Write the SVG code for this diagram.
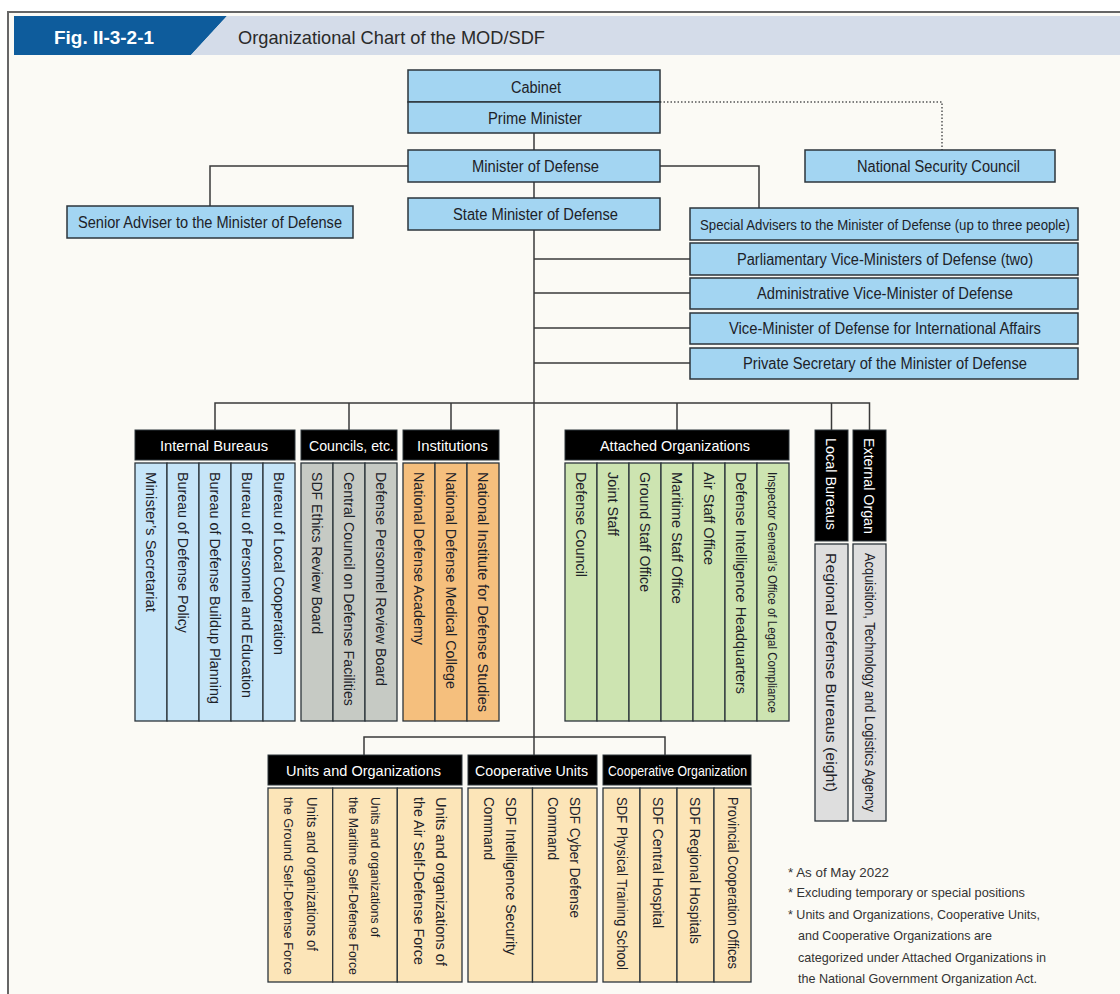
<svg xmlns="http://www.w3.org/2000/svg" width="1120" height="994" viewBox="0 0 1120 994">
<style>
text{font-family:"Liberation Sans Narrow","Liberation Sans",Arial,sans-serif;fill:#1d2228}
.t{font-size:16px}
.box{fill:#a3d5f2;stroke:#2c353b;stroke-width:1.5}
.hd{fill:#000;stroke:#2c353b;stroke-width:1}
.ht{font-size:15px;fill:#fff}
.v{font-size:15px}
.cb{fill:#c6e5f8;stroke:#2c353b;stroke-width:1.3}
.cg{fill:#c6cac4;stroke:#2c353b;stroke-width:1.3}
.co{fill:#f5bf7d;stroke:#2c353b;stroke-width:1.3}
.cgr{fill:#cde4b1;stroke:#2c353b;stroke-width:1.3}
.cl{fill:#dedede;stroke:#2c353b;stroke-width:1.3}
.cy{fill:#fce5b8;stroke:#2c353b;stroke-width:1.3}
.conn{stroke:#3a3a3a;stroke-width:1.5;fill:none}
.dot{stroke:#555;stroke-width:1.5;fill:none;stroke-dasharray:1.5 2}
.note{font-size:13.5px;fill:#333}
</style>
<rect x="0" y="0" width="1120" height="994" fill="#ffffff"/>
<rect x="8" y="12" width="1112" height="982" fill="#fbfaf5"/>
<path d="M8,994 V12 H1120" stroke="#666" stroke-width="2" fill="none"/>
<g id="header">
<polygon points="14,16 227,16 191,55 14,55" fill="#0e5c9c"/>
<polygon points="227,16 1120,16 1120,55 191,55" fill="#d4dce9"/>
<text x="54" y="44" style="font-size:19px;font-weight:bold;fill:#fff" textLength="100" lengthAdjust="spacingAndGlyphs">Fig. II-3-2-1</text>
<text x="238" y="44" style="font-size:19px;fill:#2a2a2a" textLength="307" lengthAdjust="spacingAndGlyphs">Organizational Chart of the MOD/SDF</text>
</g>
<g id="connectors">
<line class="conn" x1="534" y1="133" x2="534" y2="150"/>
<line class="conn" x1="534" y1="182" x2="534" y2="198"/>
<line class="conn" x1="534" y1="230" x2="534" y2="755"/>
<polyline class="conn" points="408,166 210,166 210,206"/>
<polyline class="conn" points="660,166 759,166 759,208"/>
<line class="conn" x1="534" y1="259" x2="690" y2="259"/>
<line class="conn" x1="534" y1="293" x2="690" y2="293"/>
<line class="conn" x1="534" y1="328" x2="690" y2="328"/>
<line class="conn" x1="534" y1="363" x2="690" y2="363"/>
<polyline class="conn" points="215,430 215,403 869.5,403 869.5,430"/>
<line class="conn" x1="349" y1="403" x2="349" y2="430"/>
<line class="conn" x1="451" y1="403" x2="451" y2="430"/>
<line class="conn" x1="677" y1="403" x2="677" y2="430"/>
<line class="conn" x1="831.5" y1="403" x2="831.5" y2="430"/>
<polyline class="conn" points="364,755 364,737 665,737 665,755"/>
<polyline class="dot" points="660,102 942,102 942,150"/>
</g>
<g id="cabinet"><rect class="box" x="408" y="70" width="252" height="32"/><text class="t" x="511" y="92.5" textLength="50" lengthAdjust="spacingAndGlyphs">Cabinet</text></g>
<g id="prime-minister"><rect class="box" x="408" y="102" width="252" height="31"/><text class="t" x="488" y="123.5" textLength="94" lengthAdjust="spacingAndGlyphs">Prime Minister</text></g>
<g id="minister"><rect class="box" x="408" y="150" width="252" height="32"/><text class="t" x="472" y="172" textLength="127" lengthAdjust="spacingAndGlyphs">Minister of Defense</text></g>
<g id="state-minister"><rect class="box" x="408" y="198" width="252" height="32"/><text class="t" x="453" y="220" textLength="165" lengthAdjust="spacingAndGlyphs">State Minister of Defense</text></g>
<g id="nsc"><rect class="box" x="805" y="150" width="250" height="32"/><text class="t" x="857" y="172" textLength="163" lengthAdjust="spacingAndGlyphs">National Security Council</text></g>
<g id="senior-adviser"><rect class="box" x="67" y="206" width="286" height="32"/><text class="t" x="78" y="227.5" textLength="264" lengthAdjust="spacingAndGlyphs">Senior Adviser to the Minister of Defense</text></g>
<g id="special-advisers"><rect class="box" x="690" y="208" width="388" height="32"/><text class="t" x="700" y="229.5" style="font-size:15px" textLength="370" lengthAdjust="spacingAndGlyphs">Special Advisers to the Minister of Defense (up to three people)</text></g>
<g id="parliamentary"><rect class="box" x="690" y="243" width="388" height="32"/><text class="t" x="737" y="264.5" textLength="296" lengthAdjust="spacingAndGlyphs">Parliamentary Vice-Ministers of Defense (two)</text></g>
<g id="administrative"><rect class="box" x="690" y="278" width="388" height="31"/><text class="t" x="757" y="299" textLength="256" lengthAdjust="spacingAndGlyphs">Administrative Vice-Minister of Defense</text></g>
<g id="international"><rect class="box" x="690" y="313" width="388" height="31"/><text class="t" x="729" y="334" textLength="312" lengthAdjust="spacingAndGlyphs">Vice-Minister of Defense for International Affairs</text></g>
<g id="private-secretary"><rect class="box" x="690" y="348" width="388" height="31"/><text class="t" x="743" y="369" textLength="284" lengthAdjust="spacingAndGlyphs">Private Secretary of the Minister of Defense</text></g>

<g id="internal-bureaus">
<rect class="hd" x="135" y="430" width="160" height="30"/><text class="ht" x="160" y="450.5" textLength="108" lengthAdjust="spacingAndGlyphs">Internal Bureaus</text>
<rect class="cb" x="135" y="463" width="32" height="258"/><rect class="cb" x="167" y="463" width="32" height="258"/><rect class="cb" x="199" y="463" width="32" height="258"/><rect class="cb" x="231" y="463" width="32" height="258"/><rect class="cb" x="263" y="463" width="32" height="258"/>
<text class="v" transform="translate(145.6,472) rotate(90)" textLength="140" lengthAdjust="spacingAndGlyphs">Minister’s Secretariat</text>
<text class="v" transform="translate(177.6,472) rotate(90)" textLength="161" lengthAdjust="spacingAndGlyphs">Bureau of Defense Policy</text>
<text class="v" transform="translate(209.6,472) rotate(90)" textLength="232" lengthAdjust="spacingAndGlyphs">Bureau of Defense Buildup Planning</text>
<text class="v" transform="translate(241.6,472) rotate(90)" textLength="226" lengthAdjust="spacingAndGlyphs">Bureau of Personnel and Education</text>
<text class="v" transform="translate(273.6,472) rotate(90)" textLength="183" lengthAdjust="spacingAndGlyphs">Bureau of Local Cooperation</text>
</g>
<g id="councils">
<rect class="hd" x="301" y="430" width="96" height="30"/><text class="ht" x="309" y="450.5" textLength="85" lengthAdjust="spacingAndGlyphs">Councils, etc.</text>
<rect class="cg" x="301" y="463" width="32" height="258"/><rect class="cg" x="333" y="463" width="32" height="258"/><rect class="cg" x="365" y="463" width="32" height="258"/>
<text class="v" transform="translate(311.6,472) rotate(90)" textLength="162" lengthAdjust="spacingAndGlyphs">SDF Ethics Review Board</text>
<text class="v" transform="translate(343.6,472) rotate(90)" textLength="234" lengthAdjust="spacingAndGlyphs">Central Council on Defense Facilities</text>
<text class="v" transform="translate(375.6,472) rotate(90)" textLength="214" lengthAdjust="spacingAndGlyphs">Defense Personnel Review Board</text>
</g>
<g id="institutions">
<rect class="hd" x="403" y="430" width="96" height="30"/><text class="ht" x="417" y="450.5" textLength="71" lengthAdjust="spacingAndGlyphs">Institutions</text>
<rect class="co" x="403" y="463" width="32" height="258"/><rect class="co" x="435" y="463" width="32" height="258"/><rect class="co" x="467" y="463" width="32" height="258"/>
<text class="v" transform="translate(413.6,472) rotate(90)" textLength="173" lengthAdjust="spacingAndGlyphs">National Defense Academy</text>
<text class="v" transform="translate(445.6,472) rotate(90)" textLength="217" lengthAdjust="spacingAndGlyphs">National Defense Medical College</text>
<text class="v" transform="translate(477.6,472) rotate(90)" textLength="240" lengthAdjust="spacingAndGlyphs">National Institute for Defense Studies</text>
</g>
<g id="attached-organizations">
<rect class="hd" x="565" y="430" width="224" height="30"/><text class="ht" x="600" y="450.5" textLength="150" lengthAdjust="spacingAndGlyphs">Attached Organizations</text>
<rect class="cgr" x="565" y="463" width="32" height="258"/><rect class="cgr" x="597" y="463" width="32" height="258"/><rect class="cgr" x="629" y="463" width="32" height="258"/><rect class="cgr" x="661" y="463" width="32" height="258"/><rect class="cgr" x="693" y="463" width="32" height="258"/><rect class="cgr" x="725" y="463" width="32" height="258"/><rect class="cgr" x="757" y="463" width="32" height="258"/>
<text class="v" transform="translate(575.6,472) rotate(90)" textLength="105" lengthAdjust="spacingAndGlyphs">Defense Council</text>
<text class="v" transform="translate(607.6,472) rotate(90)" textLength="64" lengthAdjust="spacingAndGlyphs">Joint Staff</text>
<text class="v" transform="translate(639.6,472) rotate(90)" textLength="120" lengthAdjust="spacingAndGlyphs">Ground Staff Office</text>
<text class="v" transform="translate(671.6,472) rotate(90)" textLength="132" lengthAdjust="spacingAndGlyphs">Maritime Staff Office</text>
<text class="v" transform="translate(703.6,472) rotate(90)" textLength="93" lengthAdjust="spacingAndGlyphs">Air Staff Office</text>
<text class="v" transform="translate(735.6,472) rotate(90)" textLength="222" lengthAdjust="spacingAndGlyphs">Defense Intelligence Headquarters</text>
<text class="v" transform="translate(768.3,472) rotate(90)" style="font-size:13px" textLength="241" lengthAdjust="spacingAndGlyphs">Inspector General’s Office of Legal Compliance</text>
</g>
<g id="local-bureaus">
<rect class="hd" x="815" y="430" width="33" height="111"/>
<text class="ht" transform="translate(826.1,438) rotate(90)" textLength="92" lengthAdjust="spacingAndGlyphs">Local Bureaus</text>
<rect class="cl" x="815" y="544" width="33" height="277"/>
<text class="v" transform="translate(826.1,553) rotate(90)" textLength="239" lengthAdjust="spacingAndGlyphs">Regional Defense Bureaus (eight)</text>
</g>
<g id="external-organ">
<rect class="hd" x="853" y="430" width="33" height="111"/>
<text class="ht" transform="translate(864.1,438) rotate(90)" textLength="96" lengthAdjust="spacingAndGlyphs">External Organ</text>
<rect class="cl" x="853" y="544" width="33" height="277"/>
<text class="v" transform="translate(864.5,553) rotate(90)" style="font-size:14px" textLength="259" lengthAdjust="spacingAndGlyphs">Acquisition, Technology and Logistics Agency</text>
</g>
<g id="units-and-organizations">
<rect class="hd" x="268" y="755" width="194" height="30"/><text class="ht" x="286" y="775.5" textLength="155" lengthAdjust="spacingAndGlyphs">Units and Organizations</text>
<rect class="cy" x="268" y="788" width="64.7" height="194"/><rect class="cy" x="332.7" y="788" width="64.6" height="194"/><rect class="cy" x="397.3" y="788" width="64.7" height="194"/>
<text class="v" transform="translate(306.6,797) rotate(90)" textLength="154" lengthAdjust="spacingAndGlyphs">Units and organizations of</text>
<text class="v" transform="translate(284.1,797) rotate(90)" style="font-size:13.5px" textLength="178" lengthAdjust="spacingAndGlyphs">the Ground Self-Defense Force</text>
<text class="v" transform="translate(371.3,797) rotate(90)" style="font-size:13px" textLength="140" lengthAdjust="spacingAndGlyphs">Units and organizations of</text>
<text class="v" transform="translate(349.3,797) rotate(90)" style="font-size:13px" textLength="178" lengthAdjust="spacingAndGlyphs">the Maritime Self-Defense Force</text>
<text class="v" transform="translate(435.6,797) rotate(90)" textLength="169" lengthAdjust="spacingAndGlyphs">Units and organizations of</text>
<text class="v" transform="translate(413.6,797) rotate(90)" textLength="168" lengthAdjust="spacingAndGlyphs">the Air Self-Defense Force</text>
</g>
<g id="cooperative-units">
<rect class="hd" x="468" y="755" width="129" height="30"/><text class="ht" x="475" y="775.5" textLength="113" lengthAdjust="spacingAndGlyphs">Cooperative Units</text>
<rect class="cy" x="468" y="788" width="64.5" height="194"/><rect class="cy" x="532.5" y="788" width="64.5" height="194"/>
<text class="v" transform="translate(505.6,797) rotate(90)" textLength="158" lengthAdjust="spacingAndGlyphs">SDF Intelligence Security</text>
<text class="v" transform="translate(483.6,797) rotate(90)" textLength="63" lengthAdjust="spacingAndGlyphs">Command</text>
<text class="v" transform="translate(569.6,797) rotate(90)" textLength="121" lengthAdjust="spacingAndGlyphs">SDF Cyber Defense</text>
<text class="v" transform="translate(547.6,797) rotate(90)" textLength="63" lengthAdjust="spacingAndGlyphs">Command</text>
</g>
<g id="cooperative-organization">
<rect class="hd" x="603" y="755" width="148" height="30"/><text class="ht" x="608" y="775.5" textLength="139" lengthAdjust="spacingAndGlyphs">Cooperative Organization</text>
<rect class="cy" x="603" y="788" width="37" height="194"/><rect class="cy" x="640" y="788" width="37" height="194"/><rect class="cy" x="677" y="788" width="37" height="194"/><rect class="cy" x="714" y="788" width="37" height="194"/>
<text class="v" transform="translate(616.5,797) rotate(90)" style="font-size:14px" textLength="173" lengthAdjust="spacingAndGlyphs">SDF Physical Training School</text>
<text class="v" transform="translate(653.1,797) rotate(90)" textLength="131" lengthAdjust="spacingAndGlyphs">SDF Central Hospital</text>
<text class="v" transform="translate(690.1,797) rotate(90)" textLength="147" lengthAdjust="spacingAndGlyphs">SDF Regional Hospitals</text>
<text class="v" transform="translate(727.5,797) rotate(90)" style="font-size:14px" textLength="172" lengthAdjust="spacingAndGlyphs">Provincial Cooperation Offices</text>
</g>
<g id="notes">
<text class="note" x="788" y="877" textLength="101" lengthAdjust="spacingAndGlyphs">* As of May 2022</text>
<text class="note" x="788" y="897" textLength="237" lengthAdjust="spacingAndGlyphs">* Excluding temporary or special positions</text>
<text class="note" x="788" y="919" textLength="252" lengthAdjust="spacingAndGlyphs">* Units and Organizations, Cooperative Units,</text>
<text class="note" x="798" y="940" textLength="194" lengthAdjust="spacingAndGlyphs">and Cooperative Organizations are</text>
<text class="note" x="798" y="962" textLength="248" lengthAdjust="spacingAndGlyphs">categorized under Attached Organizations in</text>
<text class="note" x="798" y="983" textLength="239" lengthAdjust="spacingAndGlyphs">the National Government Organization Act.</text>
</g>
</svg>
